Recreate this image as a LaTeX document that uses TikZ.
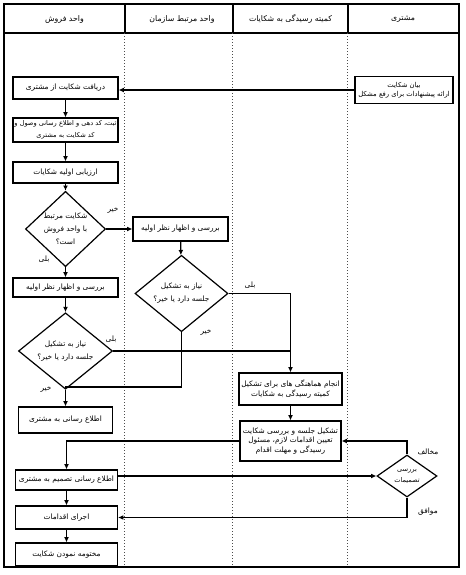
\documentclass[tikz,border=0pt]{standalone}
\usepackage{fontspec}
\usepackage{tikz}
\usetikzlibrary{shapes.geometric,arrows.meta,positioning}
\newfontfamily\farsi[Script=Arabic]{DejaVu Sans}
\TeXXeTstate=1
\newcommand{\fatext}[1]{\beginR#1\endR}

\begin{document}
\begin{tikzpicture}[
  x=0.5pt, y=-0.5pt, >={Latex[length=2.6pt,width=2.4pt]},
  box/.style={draw, line width=0.6pt, align=center, inner sep=0.5pt, minimum width=52.5pt, font=\farsi\fontsize{3.7}{4.8}\selectfont},
  dec/.style={draw, diamond, line width=0.6pt, align=center, inner sep=0pt, font=\farsi\fontsize{3.7}{6.5}\selectfont},
  lbl/.style={inner sep=0pt, font=\farsi\fontsize{3.7}{5}\selectfont},
  head/.style={inner sep=0pt, font=\farsi\fontsize{3.9}{5}\selectfont},
  lane/.style={densely dotted, line width=0.5pt, black!70},
  flow/.style={->, line width=0.6pt},
  joinline/.style={line width=0.6pt},
]
\useasboundingbox (0,0) rectangle (466,575);

% frame and lanes
\draw[line width=0.6pt] (4,4) rectangle (459,567);
\draw[line width=0.6pt] (4,33) -- (459,33);
\foreach \lx in {125,233,348} {
  \draw[line width=0.6pt] (\lx,4) -- (\lx,33);
  \draw[lane] (\lx,33) -- (\lx,567);
}
\node[head] (hsales) at (64.5,19) {\fatext{واحد فروش}};
\node[head] (hunit) at (182,19) {\fatext{واحد مرتبط سازمان}};
\node[head] (hcomm) at (290.5,19) {\fatext{کمیته رسیدگی به شکایات}};
\node[head] (hcust) at (403,19) {\fatext{مشتری}};

% customer
\node[box, minimum width=49pt, minimum height=13.5pt, font=\farsi\fontsize{3.4}{4.6}\selectfont] (cust) at (404,90) {\fatext{بیان شکایت}\\\fatext{ارائه پیشنهادات برای رفع مشکل}};

% sales unit
\node[box, minimum height=11pt] (rec) at (65.5,88) {\fatext{دریافت شکایت از مشتری}};
\node[box, minimum height=12pt, font=\farsi\fontsize{3.3}{6}\selectfont] (reg) at (65.5,130) {\fatext{ثبت، کد دهی و اطلاع رسانی وصول و}\\\fatext{کد شکایت به مشتری}};
\node[box, minimum height=10.5pt] (eval) at (65.5,172.5) {\fatext{ارزیابی اولیه شکایات}};
\node[dec, minimum width=40pt, minimum height=31pt] (dsales) at (65.5,229) {\fatext{شکایت مرتبط}\\\fatext{با واحد فروش}\\\fatext{است؟}};
\node[box, minimum height=9.5pt] (review1) at (65.5,287.5) {\fatext{بررسی و اظهار نظر اولیه}};
\node[dec, minimum width=47pt, minimum height=31pt] (dmeet1) at (65.5,351) {\fatext{نیاز به تشکیل}\\\fatext{جلسه دارد یا خیر؟}};
\node[box, minimum width=47pt, minimum height=13pt] (inform) at (65.5,420) {\fatext{اطلاع رسانی به مشتری}};
\node[box, minimum width=51pt, minimum height=10pt] (decide) at (66.5,480) {\fatext{اطلاع رسانی تصمیم به مشتری}};
\node[box, minimum width=51pt, minimum height=11.5pt] (act) at (66.5,517.5) {\fatext{اجرای اقدامات}};
\node[box, minimum width=51pt, minimum height=11.5pt] (close) at (66.5,554.5) {\fatext{مختومه نمودن شکایت}};

% related unit
\node[box, minimum width=47.5pt, minimum height=12pt] (review2) at (180.5,229) {\fatext{بررسی و اظهار نظر اولیه}};
\node[dec, minimum width=46.5pt, minimum height=30.5pt] (dmeet2) at (181.5,293.5) {\fatext{نیاز به تشکیل}\\\fatext{جلسه دارد یا خیر؟}};

% committee
\node[box, minimum width=51.5pt, minimum height=16pt] (coord) at (290.5,389) {\fatext{انجام هماهنگی های برای تشکیل}\\\fatext{کمیته رسیدگی به شکایات}};
\node[box, minimum width=50.5pt, minimum height=20pt] (meet) at (290.5,441) {\fatext{تشکیل جلسه و بررسی شکایت}\\\fatext{تعیین اقدامات لازم، مسئول}\\\fatext{رسیدگی و مهلت اقدام}};

% customer decision
\node[dec, minimum width=30pt, minimum height=21pt, font=\farsi\fontsize{3.3}{5.5}\selectfont] (dcust) at (407,476) {\fatext{بررسی}\\\fatext{تصمیمات}};

% labels
\node[lbl] (l1) at (113,210) {\fatext{خیر}};
\node[lbl] (l2) at (44,259) {\fatext{بلی}};
\node[lbl] (l3) at (111,339) {\fatext{بلی}};
\node[lbl] (l4) at (46,389) {\fatext{خیر}};
\node[lbl] (l5) at (250,285) {\fatext{بلی}};
\node[lbl] (l6) at (206,332) {\fatext{خیر}};
\node[lbl] (l7) at (428,452) {\fatext{مخالف}};
\node[lbl] (l8) at (428,512) {\fatext{موافق}};

\coordinate (nojoin) at (65.5,387);

\draw[flow] (cust.west) -- (cust.west -| rec.east);
\draw[flow] (rec) -- (reg);
\draw[flow] (reg) -- (eval);
\draw[flow] (eval) -- (dsales);
\draw[flow] (dsales) -- (review2);
\draw[flow] (dsales) -- (review1);
\draw[flow] (review1) -- (dmeet1);
\draw[flow] (dmeet1) -- (inform);
\draw[flow] (review2) -- (dmeet2);
\draw[flow] (dmeet2.east) -| (coord.north);
\draw[joinline] (dmeet1.east) -- (dmeet1.east -| coord.north);
\draw[joinline] (dmeet2.south) |- (nojoin);
\draw[flow] (coord) -- (meet);
\draw[flow] (meet.west) -| (decide.north);
\draw[flow] (dcust.north) |- (meet.east);
\draw[flow] (decide.east |- dcust.west) -- (dcust.west);
\draw[flow] (dcust.south) |- (act.east);
\draw[flow] (decide) -- (act);
\draw[flow] (act) -- (close);
\end{tikzpicture}
\end{document}
